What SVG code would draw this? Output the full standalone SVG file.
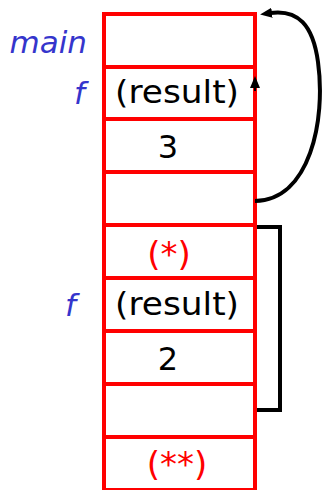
<svg xmlns="http://www.w3.org/2000/svg" width="322" height="490" viewBox="0 0 322 490">
<style>
.cell{fill:#fff;stroke:#ff0000;stroke-width:4}
.val{font-family:"DejaVu Sans","Liberation Sans",sans-serif;font-size:32px;fill:#000;text-anchor:middle}
.red{fill:#ff0000}
.lbl{font-family:"DejaVu Sans","Liberation Sans",sans-serif;font-style:italic;font-size:31px;fill:#3535cc;text-anchor:end}
.conn{fill:none;stroke:#000;stroke-width:4}
</style>
<defs>
<marker id="ah" viewBox="0 0 12 10" refX="2" refY="5" markerWidth="12" markerHeight="10" markerUnits="userSpaceOnUse" orient="auto">
<path d="M0,0 L12,5 L0,10 Z" fill="#000"/>
</marker>
</defs>
<rect width="322" height="490" fill="#fff"/>
<g id="main-frame">
<rect class="cell" x="104" y="14" width="151" height="53"/>
<text class="lbl" x="87" y="53">main</text>
</g>
<g id="f1-result">
<rect class="cell" x="104" y="67" width="151" height="52"/>
<text class="lbl" x="85" y="104">f</text>
<text class="val" x="177" y="103" textLength="124" lengthAdjust="spacingAndGlyphs">(result)</text>
</g>
<g id="f1-arg">
<rect class="cell" x="104" y="119" width="151" height="53"/>
<text class="val" x="168" y="158">3</text>
</g>
<g id="f1-ret">
<rect class="cell" x="104" y="172" width="151" height="53"/>
</g>
<g id="f1-star">
<rect class="cell" x="104" y="225" width="151" height="53"/>
<text class="val red" x="169" y="266" style="font-size:34px">(*)</text>
</g>
<g id="f2-result">
<rect class="cell" x="104" y="278" width="151" height="53"/>
<text class="lbl" x="76" y="316">f</text>
<text class="val" x="177" y="315" textLength="124" lengthAdjust="spacingAndGlyphs">(result)</text>
</g>
<g id="f2-arg">
<rect class="cell" x="104" y="331" width="151" height="53"/>
<text class="val" x="168" y="370">2</text>
</g>
<g id="f2-ret">
<rect class="cell" x="104" y="384" width="151" height="53"/>
</g>
<g id="f2-starstar">
<rect class="cell" x="104" y="437" width="151" height="53"/>
<text class="val red" x="177" y="476" style="font-size:34px">(**)</text>
</g>
<g id="connectors">
<path class="conn" d="M255,201 C310,200 326,120 318,62 C313,25 298,9 270,13" marker-end="url(#ah)"/>
<path class="conn" style="stroke-width:2" d="M255,91 L255,86" marker-end="url(#ah)"/>
<path class="conn" d="M257,227 L280,227 L280,410 L257,410"/>
</g>
</svg>
